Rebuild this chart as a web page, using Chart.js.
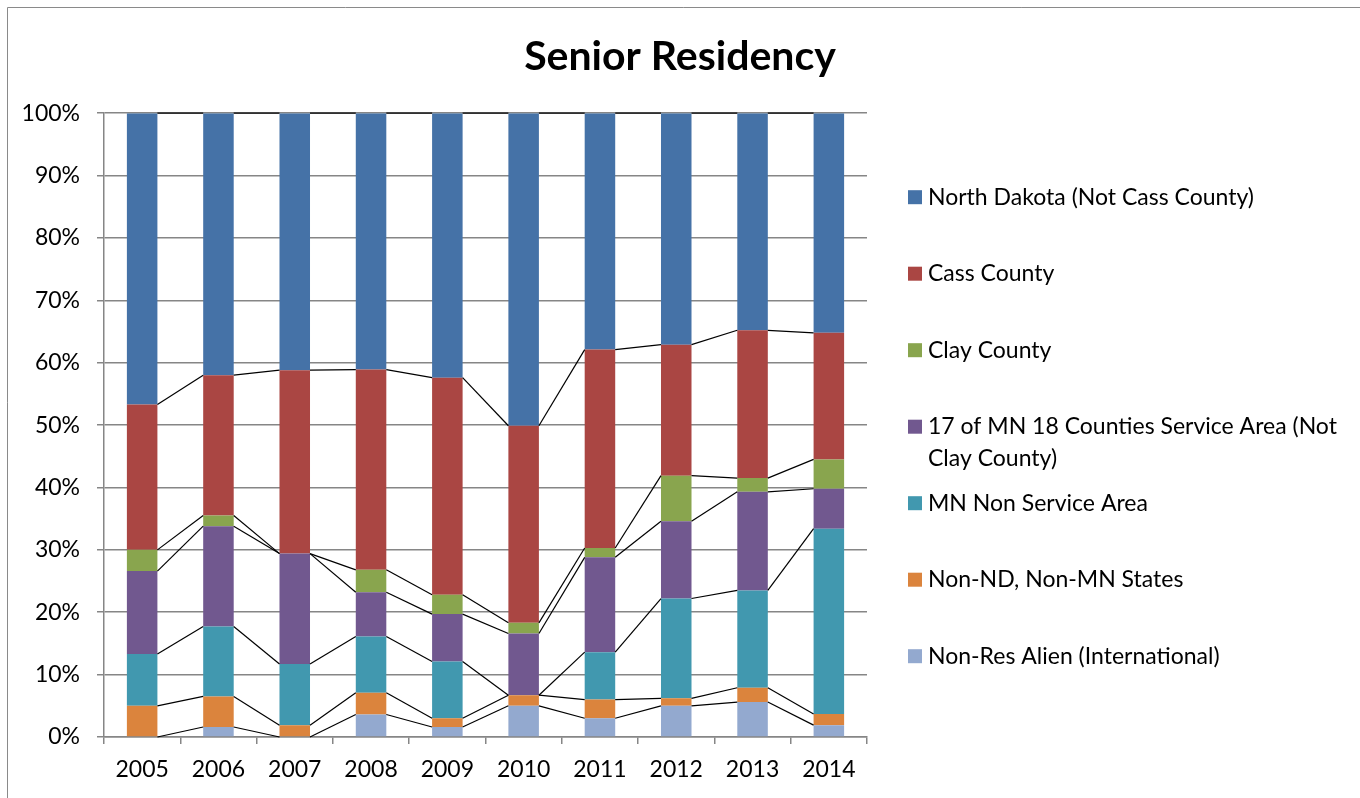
<!DOCTYPE html>
<html>
<head>
<meta charset="utf-8">
<title>Senior Residency</title>
<script src="https://cdn.jsdelivr.net/npm/chart.js@4.4.1/dist/chart.umd.min.js"></script>
<style>
    html, body { margin: 0; padding: 0; background: #fff; }
    #wrap { width: 1360px; height: 798px; }
</style>
</head>
<body>
<div id="wrap"><canvas id="residency" width="1360" height="798"></canvas></div>
<script>
// values in percent (stack order: bottom -> top)
const years = ['2005', '2006', '2007', '2008', '2009', '2010', '2011', '2012', '2013', '2014'];
const nonResAlien = [0, 1.6, 0, 3.6, 1.6, 5.0, 3.0, 5.0, 5.6, 1.9];
const nonNdNonMn = [5.0, 4.9, 1.9, 3.5, 1.4, 1.7, 3.0, 1.2, 2.3, 1.8];
const mnNonService = [8.3, 11.2, 9.8, 9.0, 9.1, 0, 7.6, 16.0, 15.6, 29.7];
const mn17Counties = [13.3, 16.1, 17.7, 7.1, 7.6, 9.9, 15.2, 12.4, 15.8, 6.4];
const clayCounty = [3.4, 1.7, 0, 3.6, 3.1, 1.7, 1.5, 7.3, 2.2, 4.7];
const cassCounty = [23.3, 22.5, 29.4, 32.1, 34.8, 31.6, 31.8, 21.0, 23.7, 20.3];
const northDakota = [46.7, 42.0, 41.2, 41.1, 42.4, 50.1, 37.9, 37.1, 34.8, 35.2];
const yTicks = [0, 10, 20, 30, 40, 50, 60, 70, 80, 90, 100];

const FONT = 'Lato';
const GRID = '#868686';

const series = [
    { label: 'Non-Res Alien (International)', data: nonResAlien, color: '#93A9CF' },
    { label: 'Non-ND, Non-MN States', data: nonNdNonMn, color: '#DB843D' },
    { label: 'MN Non Service Area', data: mnNonService, color: '#4198AF' },
    { label: '17 of MN 18 Counties Service Area (Not Clay County)', data: mn17Counties, color: '#71588F' },
    { label: 'Clay County', data: clayCounty, color: '#89A54E' },
    { label: 'Cass County', data: cassCounty, color: '#AA4643' },
    { label: 'North Dakota (Not Cass County)', data: northDakota, color: '#4572A7' }
];

// outer chart border (only top and left edges are visible in the picture)
const frame = {
    id: 'frame',
    beforeDraw(chart) {
        const ctx = chart.ctx;
        ctx.save();
        ctx.fillStyle = '#fff';
        ctx.fillRect(0, 0, chart.width, chart.height);
        ctx.strokeStyle = '#8a8a8a';
        ctx.lineWidth = 1;
        ctx.beginPath();
        ctx.moveTo(7.5, chart.height);
        ctx.lineTo(7.5, 7.5);
        ctx.lineTo(chart.width, 7.5);
        ctx.stroke();
        ctx.restore();
    }
};

// Excel style series lines joining the top of each segment
const seriesLines = {
    id: 'seriesLines',
    afterDatasetsDraw(chart) {
        const ctx = chart.ctx;
        ctx.save();
        ctx.strokeStyle = '#000';
        ctx.lineWidth = 1.2;
        chart.data.datasets.forEach((ds, i) => {
            const bars = chart.getDatasetMeta(i).data;
            for (let j = 0; j < bars.length - 1; j++) {
                const a = bars[j], b = bars[j + 1];
                ctx.beginPath();
                ctx.moveTo(a.x + a.width / 2, a.y);
                ctx.lineTo(b.x - b.width / 2, b.y);
                ctx.stroke();
            }
        });
        ctx.restore();
    }
};

// legend on the right, top item = top of the stack
const sideLegend = {
    id: 'sideLegend',
    afterDraw(chart) {
        const ctx = chart.ctx;
        const area = chart.chartArea;
        const boxX = area.right + 41;
        const textX = area.right + 61;
        const maxW = chart.width - textX - 12;
        ctx.save();
        ctx.font = '23px ' + FONT;
        ctx.textBaseline = 'middle';
        ctx.textAlign = 'left';
        const items = chart.data.datasets.slice().reverse();
        items.forEach((ds, i) => {
            const y = area.top + 84 + i * 76.5;
            ctx.fillStyle = ds.backgroundColor;
            ctx.fillRect(boxX, y - 7, 14, 14);
            ctx.fillStyle = '#000';
            const words = ds.label.split(' ');
            const lines = [];
            let line = '';
            words.forEach(w => {
                const test = line ? line + ' ' + w : w;
                if (ctx.measureText(test).width > maxW && line) {
                    lines.push(line);
                    line = w;
                } else {
                    line = test;
                }
            });
            lines.push(line);
            lines.forEach((l, k) => ctx.fillText(l, textX, y + k * 32));
        });
        ctx.restore();
    }
};

new Chart(document.getElementById('residency'), {
    type: 'bar',
    data: {
        labels: years,
        datasets: series.map(s => ({
            label: s.label,
            data: s.data,
            backgroundColor: s.color,
            borderWidth: 0,
            categoryPercentage: 1,
            barPercentage: 0.4
        }))
    },
    options: {
        responsive: false,
        animation: false,
        events: [],
        layout: { padding: 0 },
        plugins: {
            legend: { display: false },
            tooltip: { enabled: false },
            title: {
                display: true,
                text: 'Senior Residency',
                color: '#000',
                font: { family: FONT, size: 41, weight: 'bold' },
                padding: { top: 32, bottom: 32 }
            }
        },
        scales: {
            x: {
                stacked: true,
                afterFit(scale) { scale.height = 61; },
                border: { color: GRID, width: 1.5 },
                grid: { drawOnChartArea: false, offset: true, tickLength: 7, color: GRID, lineWidth: 1.5 },
                ticks: { color: '#000', font: { family: FONT, size: 23 }, padding: 12 }
            },
            y: {
                stacked: true,
                min: 0,
                max: 100,
                afterFit(scale) { scale.width = 104; },
                afterBuildTicks(scale) { scale.ticks = yTicks.map(v => ({ value: v })); },
                border: { color: GRID, width: 1.5 },
                grid: { color: GRID, lineWidth: 1.5, tickLength: 7 },
                ticks: {
                    color: '#000',
                    font: { family: FONT, size: 23 },
                    padding: 17,
                    callback: v => v + '%'
                }
            },
            // empty axis that keeps the right side free for the legend
            legendSpace: {
                position: 'right',
                display: true,
                afterFit(scale) { scale.width = 493; },
                grid: { display: false },
                border: { display: false },
                ticks: { display: false }
            }
        }
    },
    plugins: [frame, seriesLines, sideLegend]
});
</script>
</body>
</html>
